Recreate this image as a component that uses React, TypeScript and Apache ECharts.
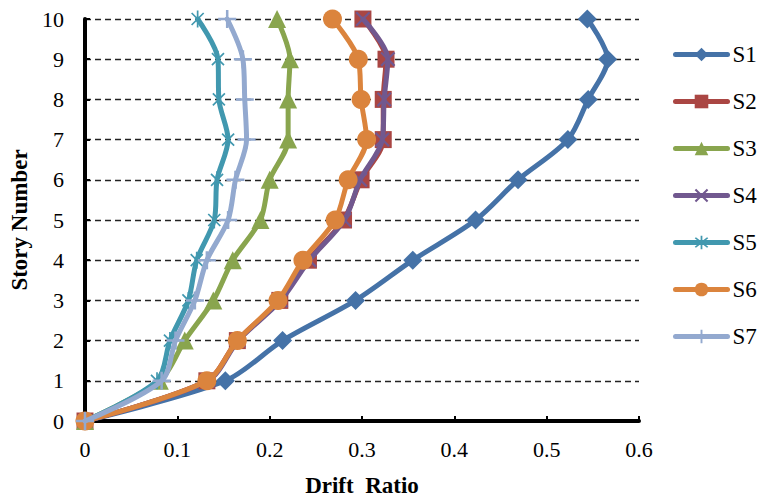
import React, { useEffect, useRef } from "react";
import * as echarts from "echarts";

const stories = [0, 1, 2, 3, 4, 5, 6, 7, 8, 9, 10];
const seriesNames = ["S1", "S2", "S3", "S4", "S5", "S6", "S7"];
const s1 = [0, 0.152, 0.214, 0.293, 0.355, 0.423, 0.469, 0.523, 0.545, 0.566, 0.544];
const s2 = [0, 0.132, 0.165, 0.211, 0.242, 0.28, 0.299, 0.323, 0.323, 0.326, 0.301];
const s3 = [0, 0.081, 0.108, 0.139, 0.16, 0.19, 0.2, 0.22, 0.22, 0.222, 0.208];
const s4 = [0, 0.133, 0.166, 0.212, 0.243, 0.281, 0.298, 0.322, 0.324, 0.328, 0.301];
const s5 = [0, 0.078, 0.092, 0.112, 0.121, 0.14, 0.143, 0.155, 0.145, 0.144, 0.122];
const s6 = [0, 0.132, 0.165, 0.209, 0.236, 0.271, 0.285, 0.305, 0.299, 0.296, 0.268];
const s7 = [0, 0.083, 0.098, 0.119, 0.132, 0.155, 0.163, 0.175, 0.173, 0.171, 0.154];
const allValues = [s1, s2, s3, s4, s5, s6, s7];
const colors = ["#4572A7", "#AA4643", "#89A54E", "#71588F", "#4198AF", "#DB843D", "#93A9CF"];

// symbol shapes built from bars (same winding so they fill as a union)
function bar(angleDeg: number, len: number, w: number): string {
  const a = (angleDeg * Math.PI) / 180;
  const ux = Math.cos(a), uy = Math.sin(a);
  const vx = -uy, vy = ux;
  const c = 50;
  const p = [
    [c + ux * len + vx * w, c + uy * len + vy * w],
    [c - ux * len + vx * w, c - uy * len + vy * w],
    [c - ux * len - vx * w, c - uy * len - vy * w],
    [c + ux * len - vx * w, c + uy * len - vy * w],
  ];
  return (
    "M" + p.map((q) => q[0].toFixed(2) + " " + q[1].toFixed(2)).join(" L") + " Z"
  );
}
const xSymbol = "path://" + bar(45, 50, 6) + " " + bar(135, 50, 6);
const starSymbol = "path://" + bar(45, 50, 5) + " " + bar(135, 50, 5) + " " + bar(90, 50, 5);
const plusSymbol = "path://" + bar(0, 50, 7) + " " + bar(90, 50, 7);

const symbols = ["diamond", "rect", "triangle", xSymbol, starSymbol, "circle", plusSymbol];
const symbolSizes = [19, 17, 18, 15, 17, 19, 18];

const FONT = "'Liberation Serif', 'Times New Roman', serif";

export default function App() {
  const ref = useRef<HTMLDivElement>(null);
  useEffect(() => {
    if (!ref.current) return;
    const chart = echarts.init(ref.current, undefined, { renderer: "svg" });
    const series = seriesNames.map((name, i) => ({
      name,
      type: "line",
      data: allValues[i].map((v, k) => [v, stories[k]]),
      smooth: 0.3,
      symbol: symbols[i],
      symbolSize: symbolSizes[i],
      symbolKeepAspect: true,
      showAllSymbol: true,
      color: colors[i],
      lineStyle: { width: 5, color: colors[i], cap: "round", join: "round" },
      itemStyle: { color: colors[i], borderWidth: 0 },
      z: 2 + i,
    }));
    chart.setOption({
      animation: false,
      backgroundColor: "#ffffff",
      grid: { left: 85, right: 120, top: 19, bottom: 79, containLabel: false },
      legend: {
        orient: "vertical",
        left: 673,
        top: 43,
        padding: 0,
        itemWidth: 52,
        itemHeight: 17,
        itemGap: 24,
        data: seriesNames,
        lineStyle: { width: 5, cap: "round" },
        textStyle: { fontFamily: FONT, fontSize: 23, color: "#000" },
      },
      xAxis: {
        type: "value",
        min: 0,
        max: 0.6,
        interval: 0.1,
        name: "Drift  Ratio",
        nameLocation: "middle",
        nameGap: 53,
        nameTextStyle: { fontFamily: FONT, fontSize: 23, fontWeight: "bold", color: "#000" },
        axisLine: { show: true, lineStyle: { color: "#000", width: 4 } },
        axisTick: { show: true, inside: true, length: 5, lineStyle: { color: "#000", width: 2 } },
        axisLabel: {
          fontFamily: FONT,
          fontSize: 22,
          color: "#000",
          margin: 17,
          formatter: (v: number) => String(+v.toFixed(1)),
        },
        splitLine: { show: false },
      },
      yAxis: {
        type: "value",
        min: 0,
        max: 10,
        interval: 1,
        name: "Story Number",
        nameLocation: "middle",
        nameGap: 52,
        nameRotate: 90,
        nameTextStyle: { fontFamily: FONT, fontSize: 23, fontWeight: "bold", color: "#000" },
        axisLine: { show: true, lineStyle: { color: "#000", width: 4 } },
        axisTick: { show: true, inside: true, length: 5, lineStyle: { color: "#000", width: 2 } },
        axisLabel: { fontFamily: FONT, fontSize: 22, color: "#000", margin: 21 },
        splitLine: {
          show: true,
          lineStyle: { color: "#222", width: 1.3, type: [6, 4] },
        },
      },
      series,
    });
    return () => chart.dispose();
  }, []);
  return (
    <div
      ref={ref}
      style={{ position: "fixed", left: 0, top: 0, width: 759, height: 502, background: "#fff" }}
    />
  );
}
